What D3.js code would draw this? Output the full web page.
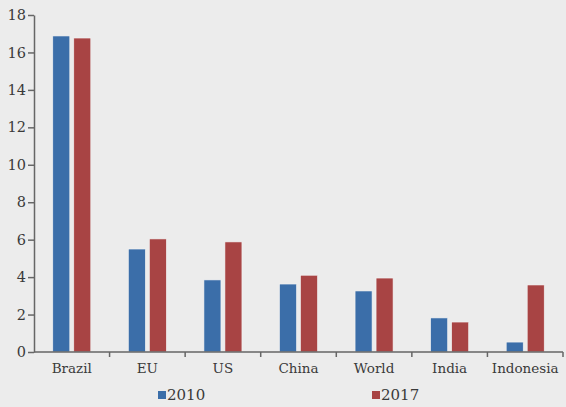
<!DOCTYPE html>
<html>
<head>
<meta charset="utf-8">
<script src="https://cdn.jsdelivr.net/npm/d3@7"></script>
<style>
  html, body { margin: 0; padding: 0; background: #ececec; }
  svg { display: block; }
  .axis text { font-family: "DejaVu Serif", serif; font-size: 13.5px; fill: #3a3a3a; }
  .axis.y-axis text { font-size: 14.5px; }
  .axis path, .axis line { stroke: #666; stroke-width: 1.5; }
  .legend text { font-family: "DejaVu Serif", serif; font-size: 15px; fill: #3a3a3a; }
</style>
</head>
<body>
<svg id="chart" width="566" height="407"></svg>
<script>
// Daten
const categories = ['Brazil', 'EU', 'US', 'China', 'World', 'India', 'Indonesia'];
const seriesNames = ['2010', '2017'];
const values2010 = [16.88, 5.5, 3.85, 3.63, 3.26, 1.82, 0.53];
const values2017 = [16.77, 6.04, 5.88, 4.1, 3.95, 1.6, 3.58];
const yTicks = [0, 2, 4, 6, 8, 10, 12, 14, 16, 18];
const colors = ['#3b6ea9', '#a84444'];

const svg = d3.select('#chart');
const margin = { top: 15, right: 3, bottom: 55, left: 34 };
const width = 566 - margin.left - margin.right;
const height = 407 - margin.top - margin.bottom;

const g = svg.append('g')
    .attr('transform', `translate(${margin.left},${margin.top})`);

const x0 = d3.scaleBand().domain(categories).range([0, width]).padding(0);
const y = d3.scaleLinear().domain([0, 18]).range([height, 0]);

// Balken
const barW = 17, gap = 4;
const rows = categories.map((c, i) => ({ c, v: [values2010[i], values2017[i]] }));
rows.forEach(r => {
    r.v.forEach((v, k) => {
        const cx = x0(r.c) + x0.bandwidth() / 2;
        const xPos = k === 0 ? cx - gap / 2 - barW : cx + gap / 2;
        g.append('rect')
            .attr('x', xPos)
            .attr('y', y(v))
            .attr('width', barW)
            .attr('height', y(0) - y(v))
            .style('fill', colors[k])
            .style('stroke', '#f4f4f4')
            .style('stroke-width', 0.6);
    });
});

// Y-Achse
g.append('g')
    .attr('class', 'axis y-axis')
    .call(d3.axisLeft(y).tickValues(yTicks).tickSize(6).tickPadding(2).tickSizeOuter(0));

// X-Achse mit Ticks an Kategoriegrenzen
const xAxisG = g.append('g')
    .attr('class', 'axis')
    .attr('transform', `translate(0,${height})`);
xAxisG.append('line')
    .attr('x1', 0).attr('x2', width)
    .attr('y1', 0).attr('y2', 0);
categories.forEach((c, i) => {
    if (i > 0) {
        xAxisG.append('line')
            .attr('x1', x0(c)).attr('x2', x0(c))
            .attr('y1', 0).attr('y2', 5);
    }
    xAxisG.append('text')
        .attr('x', x0(c) + x0.bandwidth() / 2)
        .attr('y', 21)
        .attr('text-anchor', 'middle')
        .text(c);
});
xAxisG.append('line')
    .attr('x1', width).attr('x2', width)
    .attr('y1', 0).attr('y2', 5);

// Legende
const legendX = [158, 372];
const legend = svg.append('g').attr('class', 'legend');
seriesNames.forEach((name, i) => {
    legend.append('rect')
        .attr('x', legendX[i])
        .attr('y', 391)
        .attr('width', 8)
        .attr('height', 8)
        .style('fill', colors[i]);
    legend.append('text')
        .attr('x', legendX[i] + 9)
        .attr('y', 400)
        .text(name);
});
</script>
</body>
</html>
